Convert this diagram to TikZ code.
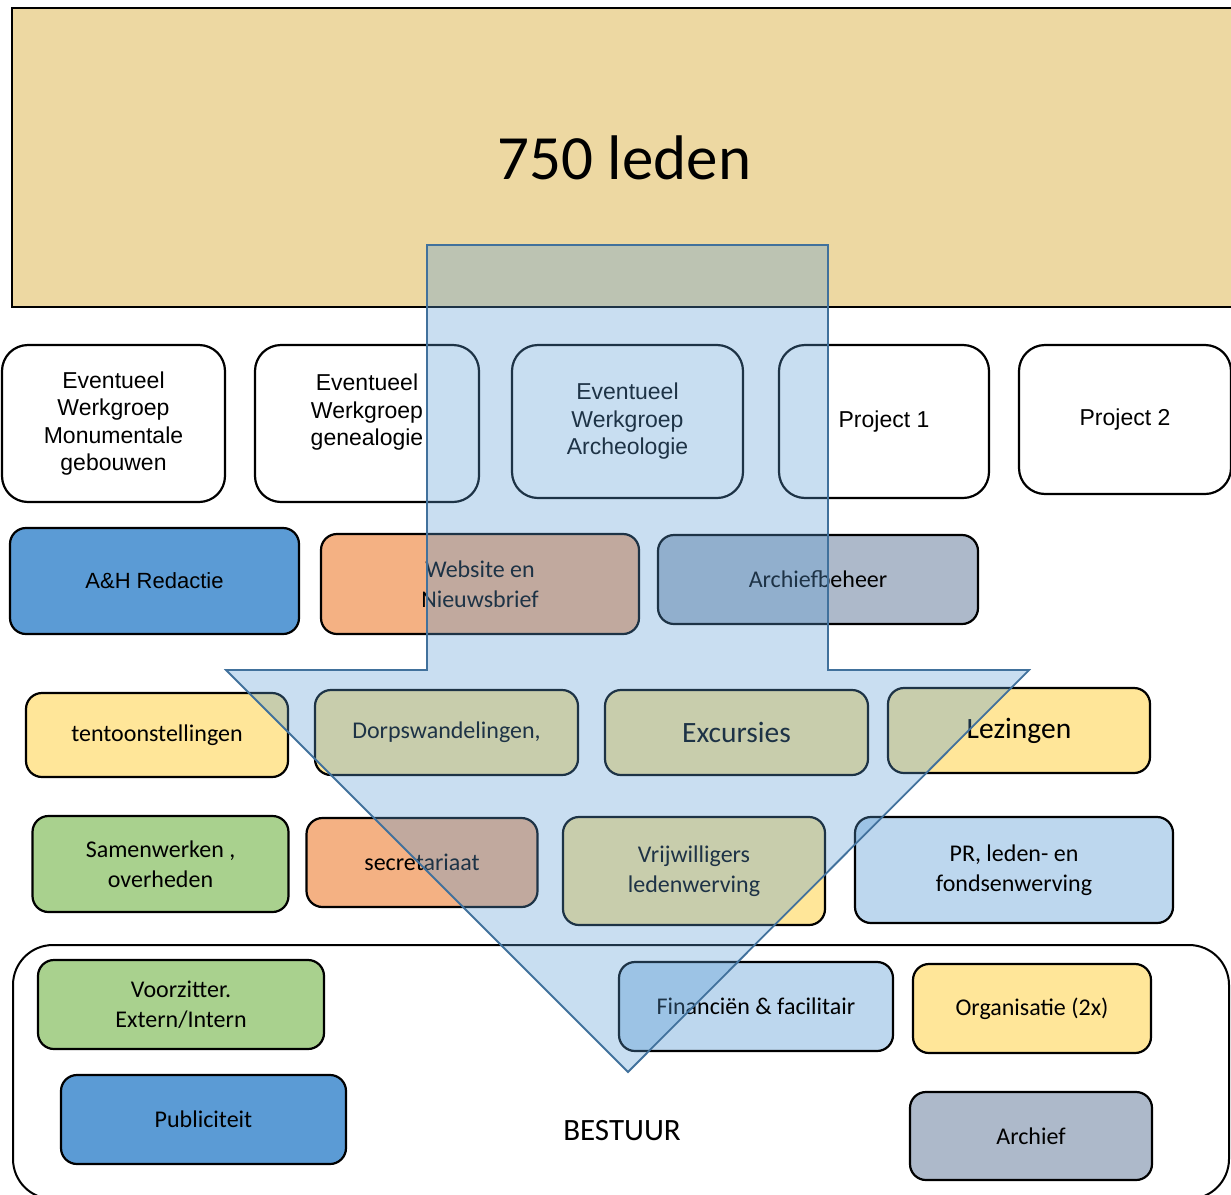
\documentclass[tikz,border=0pt]{standalone}
\usepackage{fontspec}
\setmainfont{Carlito}
\newfontfamily\arialfont{Liberation Sans}
\definecolor{papyrus}{HTML}{EDD8A2}
\definecolor{darkblue}{HTML}{5B9BD5}
\definecolor{lightblue}{HTML}{BDD7EE}
\definecolor{peach}{HTML}{F4B183}
\definecolor{sand}{HTML}{FFE699}
\definecolor{grass}{HTML}{A9D18E}
\definecolor{slate}{HTML}{ADB9CA}
\definecolor{arrowline}{HTML}{41719C}

\begin{document}
\begin{tikzpicture}[x=1pt, y=-1pt, every node/.style={align=center, inner sep=0pt},
	box/.style={draw=black, line width=2.2pt, rounded corners=16pt, font=\fontsize{24}{30}\selectfont},
	wgbox/.style={box, rounded corners=26pt, fill=white, font=\arialfont\fontsize{23}{27.5}\selectfont}]
			\useasboundingbox (0,0) rectangle (1231,1194);
			\clip (0,0) rectangle (1231,1194);
			
			% leden
			\node[draw=black, line width=2pt, fill=papyrus, minimum width=1225pt, minimum height=299pt, anchor=north west] (leden) at (11,7) {\fontsize{63}{70}\selectfont 750 leden};
			
			% werkgroepen en projecten
			\node[wgbox, minimum width=223pt, minimum height=157pt] (monument) at (113.5,423.5) {Eventueel\\Werkgroep\\Monumentale\\gebouwen};
			\node[wgbox, minimum width=224pt, minimum height=157pt] (genealogie) at (367,423.5) {Eventueel\\Werkgroep\\genealogie\\~};
			\node[wgbox, minimum width=231pt, minimum height=153pt] (archeologie) at (627.5,421.5) {Eventueel\\Werkgroep\\Archeologie};
			\node[wgbox, minimum width=210pt, minimum height=153pt] (project1) at (884,421.5) {Project 1};
			\node[wgbox, minimum width=212pt, minimum height=149pt] (project2) at (1125,419.5) {Project 2};
			
			\node[box, fill=darkblue, minimum width=289pt, minimum height=106pt, font=\arialfont\fontsize{22}{27}\selectfont] (redactie) at (154.5,581) {A\&H Redactie};
			\node[box, fill=peach, minimum width=318pt, minimum height=100pt] (website) at (480,584) {Website en\\Nieuwsbrief};
			\node[box, fill=slate, minimum width=320pt, minimum height=89pt] (archiefbeheer) at (818,579.5) {Archiefbeheer};
			
			% activiteiten
			\node[box, fill=sand, minimum width=262pt, minimum height=84pt] (tentoon) at (157,735) {tentoonstellingen};
			\node[box, fill=sand, minimum width=263pt, minimum height=85pt] (dorp) at (446.5,732.5) {Dorpswandelingen,};
			\node[box, fill=sand, minimum width=263pt, minimum height=85pt, font=\fontsize{29.5}{32}\selectfont] (excursies) at (736.5,732.5) {Excursies};
			\node[box, fill=sand, minimum width=262pt, minimum height=85pt, font=\fontsize{29.5}{32}\selectfont] (lezingen) at (1019,730.5) {Lezingen};
			
			\node[box, fill=grass, minimum width=256pt, minimum height=96pt] (samen) at (160.5,864) {Samenwerken ,\\overheden};
			\node[box, fill=peach, minimum width=231pt, minimum height=89pt] (secretariaat) at (422,862.5) {secretariaat};
			\node[box, fill=sand, minimum width=262pt, minimum height=108pt] (vrijwilligers) at (694,871) {Vrijwilligers\\ledenwerving};
			\node[box, fill=lightblue, minimum width=318pt, minimum height=106pt] (pr) at (1014,870) {PR, leden- en\\fondsenwerving};
			
			% bestuur
			\node[draw=black, line width=2pt, fill=white, rounded corners=40pt, minimum width=1216pt, minimum height=254pt, anchor=north west] (bestuur) at (12,944) {};
			\node[box, fill=grass, minimum width=286pt, minimum height=89pt] (voorzitter) at (181,1004.5) {Voorzitter.\\Extern/Intern};
			\node[box, fill=darkblue, minimum width=285pt, minimum height=89pt] (publiciteit) at (203.5,1119.5) {Publiciteit};
			\node[box, fill=lightblue, minimum width=274pt, minimum height=89pt] (financien) at (756,1006.5) {Financiën \& facilitair};
			\node[box, fill=sand, minimum width=238pt, minimum height=89pt] (organisatie) at (1032,1008.5) {Organisatie (2x)};
			\node[box, fill=slate, minimum width=242pt, minimum height=88pt] (archief) at (1031,1136) {Archief};
			\node[font=\fontsize{31}{34}\selectfont] (bestuurtxt) at (622,1131) {BESTUUR};
			
			% pijl
			\draw[arrowline, line width=1.8pt, fill=darkblue, fill opacity=0.33] (427,245) -- (828,245) -- (828,670) -- (1029,670) -- (628,1072) -- (226,670) -- (427,670) -- cycle;
\end{tikzpicture}
\end{document}
